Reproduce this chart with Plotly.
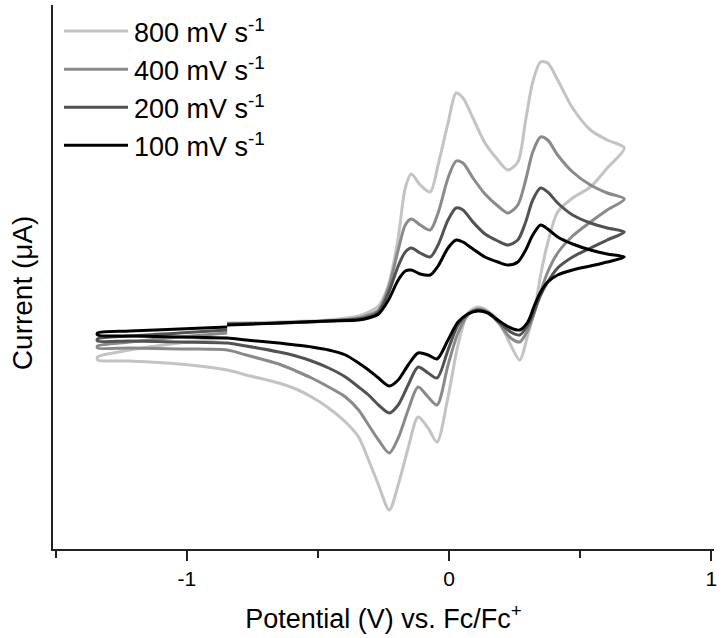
import plotly.graph_objects as go

# Potential sweep: forward (anodic) scan, reverse (cathodic) scan, return to start
E_forward = [-0.846, -0.649, -0.459, -0.345, -0.307, -0.269, -0.231, -0.194, -0.167, -0.144,
             -0.110, -0.072, -0.042, -0.004, 0.027, 0.053, 0.091, 0.137, 0.186, 0.224,
             0.262, 0.292, 0.319, 0.349, 0.376, 0.414, 0.471, 0.539, 0.603, 0.668]
E_reverse = [0.603, 0.539, 0.471, 0.414, 0.376, 0.349, 0.326, 0.300, 0.269, 0.235,
             0.186, 0.148, 0.110, 0.072, 0.034, -0.004, -0.046, -0.080, -0.118, -0.156,
             -0.194, -0.228, -0.269, -0.307, -0.345, -0.395, -0.459, -0.524, -0.584, -0.649,
             -0.774, -0.846, -1.028, -1.218, -1.340]
E_return = [-1.340, -1.218, -1.028, -0.846]
E_scan = E_forward + E_reverse + E_return

# Current (uA) along the scan for each scan rate
i_100 = [0.0, 0.2, 0.4, 0.5, 0.7, 1.1, 2.5, 4.5, 5.4, 5.5,
         5.1, 5.0, 5.9, 7.7, 8.5, 8.3, 7.6, 6.8, 6.3, 6.0,
         6.3, 7.5, 9.0, 10.0, 9.6, 8.8, 8.1, 7.5, 7.1, 6.8,
         6.3, 5.9, 5.5, 5.0, 4.3, 3.3, 2.0, 0.3, -0.5, -0.3,
         0.5, 1.2, 1.4, 1.1, 0.3, -1.5, -3.4, -3.0, -2.8, -4.0,
         -5.5, -6.1, -5.3, -4.5, -3.8, -3.0, -2.5, -2.2, -2.0, -1.8,
         -1.5, -1.3, -1.2, -1.1, -1.0,
         -0.8, -0.6, -0.4, -0.2]
i_200 = [0.1, 0.2, 0.4, 0.6, 0.8, 1.3, 3.2, 5.9, 7.3, 7.7,
         7.2, 6.8, 8.0, 10.5, 11.7, 11.5, 10.3, 9.1, 8.4, 8.0,
         8.5, 10.3, 12.5, 13.7, 13.3, 12.2, 11.0, 10.2, 9.7, 9.3,
         8.5, 7.7, 6.8, 5.7, 4.3, 3.0, 1.5, 0.0, -1.0, -0.7,
         0.4, 1.2, 1.5, 1.1, 0.0, -2.5, -5.3, -4.8, -4.2, -6.0,
         -8.0, -8.8, -8.0, -7.0, -6.2, -5.2, -4.3, -3.6, -3.1, -2.7,
         -2.1, -1.8, -1.7, -1.6, -1.6,
         -1.4, -1.1, -0.8, -0.5]
i_400 = [0.1, 0.2, 0.4, 0.7, 1.0, 1.5, 3.7, 7.5, 10.0, 10.6,
         10.0, 9.5, 11.2, 14.7, 16.4, 16.2, 14.7, 13.1, 11.9, 11.2,
         12.0, 14.5, 17.3, 18.8, 18.5, 17.0, 15.3, 14.0, 13.2, 12.6,
         11.5, 10.3, 8.9, 7.2, 5.3, 3.3, 1.3, -0.5, -1.7, -1.3,
         0.3, 1.3, 1.6, 1.0, -0.8, -4.0, -8.0, -7.2, -6.2, -8.5,
         -11.3, -12.8, -11.5, -10.0, -8.5, -7.2, -6.2, -5.3, -4.6, -3.9,
         -3.0, -2.5, -2.4, -2.3, -2.3,
         -2.1, -1.7, -1.2, -0.8]
i_800 = [0.2, 0.3, 0.5, 0.9, 1.3, 1.9, 4.0, 8.7, 13.7, 15.1,
         14.0, 13.3, 16.0, 20.2, 23.2, 22.7, 20.7, 18.2, 16.5, 15.5,
         16.3, 20.5, 24.3, 26.3, 26.2, 24.5, 21.7, 19.5, 18.5, 17.7,
         15.7, 13.8, 12.7, 11.3, 8.2, 5.0, 1.5, -1.0, -3.5, -2.0,
         0.5, 1.4, 1.8, 1.2, -2.0, -7.2, -11.7, -10.3, -9.2, -12.3,
         -16.0, -18.5, -16.0, -13.5, -11.2, -9.7, -8.3, -7.2, -6.4, -5.8,
         -5.0, -4.5, -3.9, -3.6, -3.5,
         -3.2, -2.5, -1.8, -1.3]

scan_labels = ["800 mV s<sup>-1</sup>", "400 mV s<sup>-1</sup>",
               "200 mV s<sup>-1</sup>", "100 mV s<sup>-1</sup>"]
scan_currents = [i_800, i_400, i_200, i_100]
scan_colors = ["#c3c3c3", "#8a8a8a", "#525252", "#000000"]

FONT = "Arial, Liberation Sans, sans-serif"

fig = go.Figure()
for label, cur, col in zip(scan_labels, scan_currents, scan_colors):
    fig.add_trace(go.Scatter(
        x=E_scan, y=cur, mode="lines", name=label, showlegend=False,
        line=dict(color=col, width=3, shape="spline", smoothing=0.8),
    ))

# Legend drawn by hand so the line samples can be long
legend_y = [0.952, 0.882, 0.812, 0.742]
for label, col, ly in zip(scan_labels, scan_colors, legend_y):
    fig.add_shape(type="line", xref="paper", yref="paper",
                  x0=0.0166, x1=0.1135, y0=ly, y1=ly,
                  line=dict(color=col, width=3))
    fig.add_annotation(xref="paper", yref="paper", x=0.119, y=ly,
                       xanchor="left", yanchor="middle", showarrow=False,
                       text=label, font=dict(family=FONT, size=27, color="#000000"))

# Y-axis title placed as a rotated annotation
fig.add_annotation(xref="paper", yref="paper", x=-0.047, y=0.472,
                   xanchor="center", yanchor="middle", showarrow=False,
                   textangle=-90, text="Current (\u03bcA)",
                   font=dict(family=FONT, size=28, color="#000000"))

fig.update_layout(
    width=722, height=638,
    margin=dict(l=53, r=5, t=5, b=89),
    paper_bgcolor="white", plot_bgcolor="white",
    font=dict(family=FONT, color="#000000"),
    xaxis=dict(
        range=[-1.51, 1.01],
        showline=True, linecolor="#222222", linewidth=1.5,
        showgrid=False, zeroline=False,
        tickmode="array", tickvals=[-1, 0, 1], ticktext=["-1", "0", "1"],
        ticks="outside", ticklen=10, tickwidth=1.5, tickcolor="#222222",
        tickfont=dict(family=FONT, size=21, color="#000000"),
        minor=dict(tickvals=[-1.5, -0.5, 0.5], ticks="outside", ticklen=7,
                   tickwidth=1.5, tickcolor="#222222"),
        title=dict(text="Potential (V) vs. Fc/Fc<sup>+</sup>",
                   font=dict(family=FONT, size=27, color="#000000"), standoff=20),
    ),
    yaxis=dict(
        range=[-22.4, 32.0],
        showline=True, linecolor="#222222", linewidth=1.5,
        showgrid=False, zeroline=False,
        showticklabels=False, ticks="",
    ),
)

fig.write_html("out.html")
